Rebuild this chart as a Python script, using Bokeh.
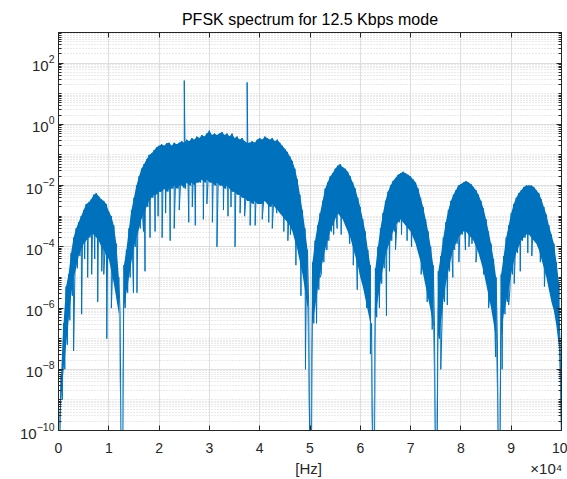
import numpy as np
from bokeh.plotting import figure
from bokeh.models import (Range1d, FixedTicker, LogTickFormatter, LinearAxis, LogAxis,
                          CustomJSTickFormatter, ColumnDataSource)
from bokeh.embed import file_html
from bokeh.resources import INLINE

# ---------------- data ----------------
TITLE = "PFSK spectrum for 12.5 Kbps mode"
X_LABEL = "[Hz]"
X_MULT = "×10⁴"
step_hz = 500  # spacing of the envelope readings

# upper edge of the dense band, log10 of the spectrum, one reading every 500 Hz (0 .. 100 kHz)
hi_log = [
    -10.5, -8.2, -6.5, -5.3, -4.9, -4.2, -3.7, -3.4, -3.2, -3.0,
    -2.8, -2.6, -2.55, -2.45, -2.3, -2.25, -2.35, -2.45, -2.5, -2.6,
    -2.85, -3.0, -3.3, -3.9, -5.0, -12, -4.6, -4.1, -3.4, -2.8,
    -2.4, -2.0, -1.7, -1.45, -1.3, -1.15, -1.0, -0.95, -0.85, -0.75,
    -0.7, -0.65, -0.7, -0.62, -0.6, -0.7, -0.6, -0.65, -0.6, -0.55,
    -0.6, -0.5, -0.55, -0.45, -0.5, -0.4, -0.45, -0.35, -0.4, -0.3,
    -0.2, -0.35, -0.3, -0.35, -0.3, -0.25, -0.35, -0.3, -0.4, -0.3,
    -0.45, -0.4, -0.5, -0.45, -0.55, -0.6, -0.6, -0.55, -0.6, -0.5,
    -0.45, -0.5, -0.4, -0.45, -0.5, -0.45, -0.55, -0.5, -0.6, -0.7,
    -0.8, -0.9, -1.05, -1.2, -1.45, -1.8, -2.3, -2.8, -3.4, -4.1,
    -12, -4.5, -3.8, -3.3, -2.9, -2.5, -2.1, -1.9, -1.7, -1.6,
    -1.45, -1.35, -1.3, -1.4, -1.45, -1.55, -1.7, -1.9, -2.1, -2.4,
    -2.7, -3.1, -3.5, -4.1, -4.6, -12, -4.7, -4.0, -3.4, -2.9,
    -2.5, -2.2, -2.0, -1.85, -1.75, -1.65, -1.6, -1.55, -1.6, -1.65,
    -1.7, -1.8, -1.9, -2.1, -2.4, -2.7, -3.1, -3.5, -4.0, -4.6,
    -12, -4.8, -4.3, -3.7, -3.2, -2.8, -2.5, -2.3, -2.15, -2.0,
    -1.95, -1.9, -1.85, -1.9, -1.95, -2.05, -2.15, -2.3, -2.5, -2.75,
    -3.1, -3.5, -3.9, -4.4, -5.0, -12, -4.9, -4.3, -3.7, -3.3,
    -2.9, -2.6, -2.4, -2.25, -2.15, -2.05, -2.0, -2.0, -2.0, -2.05,
    -2.15, -2.25, -2.45, -2.7, -2.95, -3.3, -3.6, -3.9, -4.5, -5.2,
    -10.5,
]

# lower edge of the dense band, log10, same frequencies
lo_log = [
    -10.5, -9.0, -8.0, -7.2, -6.4, -5.6, -5.0, -4.7, -4.3, -4.1,
    -3.9, -3.8, -3.7, -3.6, -3.6, -3.7, -3.8, -4.0, -4.1, -4.3,
    -4.4, -4.8, -5.2, -5.7, -6.2, -12, -6.0, -5.5, -5.0, -4.5,
    -4.0, -3.7, -3.4, -3.1, -2.9, -2.7, -2.5, -2.4, -2.3, -2.3,
    -2.2, -2.2, -2.1, -2.2, -2.1, -2.1, -2.0, -2.1, -2.0, -2.0,
    -2.1, -1.9, -2.0, -1.9, -2.0, -1.9, -1.9, -1.8, -1.9, -1.8,
    -1.9, -1.9, -2.0, -1.9, -2.0, -2.0, -2.1, -2.0, -2.1, -2.2,
    -2.2, -2.3, -2.3, -2.4, -2.4, -2.5, -2.5, -2.6, -2.5, -2.6,
    -2.6, -2.6, -2.5, -2.6, -2.7, -2.6, -2.7, -2.8, -2.9, -3.0,
    -3.1, -3.2, -3.3, -3.5, -3.8, -4.1, -4.5, -4.9, -5.4, -6.0,
    -12, -6.5, -6.0, -5.4, -4.9, -4.5, -4.1, -3.8, -3.5, -3.3,
    -3.1, -2.9, -3.0, -3.1, -3.3, -3.5, -3.7, -4.0, -4.3, -4.6,
    -5.0, -5.3, -5.7, -6.1, -6.5, -12, -6.3, -5.7, -5.2, -4.7,
    -4.3, -4.0, -3.8, -3.5, -3.3, -3.2, -3.1, -3.2, -3.3, -3.4,
    -3.5, -3.7, -3.9, -4.2, -4.5, -4.9, -5.3, -5.7, -6.1, -6.6,
    -12, -7.0, -6.5, -5.8, -5.2, -4.8, -4.4, -4.1, -3.9, -3.7,
    -3.6, -3.5, -3.5, -3.6, -3.7, -3.8, -4.0, -4.2, -4.5, -4.8,
    -5.2, -5.6, -6.0, -6.5, -7.0, -12, -6.9, -6.2, -5.8, -5.4,
    -4.9, -4.5, -4.2, -4.0, -3.8, -3.7, -3.6, -3.6, -3.7, -3.8,
    -3.9, -4.1, -4.4, -4.7, -5.0, -5.4, -5.8, -6.1, -6.6, -7.3,
    -10.5,
]

# isolated dips and the two tall spikes: frequency (kHz), log10 value
dip_khz = [0.7, 1.7, 3.0, 4.6, 5.2, 5.8, 6.6, 7.2, 7.8, 8.6, 9.0, 9.6, 10.5, 11.6,
           14.9, 15.6, 16.9, 17.2, 18.2, 19.2, 19.8, 20.6, 21.3, 22.2, 23.0, 24.0,
           25.9, 26.6, 27.2, 28.8, 29.5, 30.6, 31.5, 32.8, 33.7, 34.3, 35.1, 36.1,
           37.0, 38.1, 39.1, 40.5, 41.8, 42.5, 43.4, 44.8, 45.6, 46.1, 47.2, 48.2, 49.1,
           50.4, 51.3, 52.0, 53.4, 54.7, 55.4, 56.2, 57.9, 58.6, 59.4, 60.0, 61.3, 62.0,
           62.9, 63.8, 65.2, 65.8, 67.0, 68.2, 69.3, 70.2, 71.0, 72.1, 73.3, 74.3,
           76.0, 77.3, 78.4, 79.6, 80.9, 81.6, 82.2, 83.0, 84.5, 85.5, 86.9,
           88.2, 89.5, 90.6, 91.8, 93.3, 94.1, 95.8, 96.6, 97.5, 99.5,
           25.0, 37.5]
dip_log = [-8.7, -7.0, -7.4, -6.2, -4.4, -5.0, -4.9, -4.4, -5.8, -4.8, -4.9, -7.0, -6.0, -5.6,
           -5.5, -5.5, -3.5, -4.8, -3.7, -3.5, -3.0, -3.7, -2.9, -3.8, -3.4, -2.8,
           -3.2, -2.7, -3.3, -3.1, -2.6, -3.2, -4.0, -2.8, -3.0, -2.7, -4.0, -2.9,
           -3.0, -3.3, -3.3, -3.1, -3.2, -3.4, -2.9, -3.5, -3.8, -3.6, -4.6, -5.6, -8.0,
           -7.9, -6.5, -5.0, -4.1, -3.6, -3.4, -3.6, -3.9, -4.6, -5.4, -4.9, -6.0, -7.5,
           -8.8, -6.0, -6.25, -4.8, -4.1, -3.6, -3.8, -4.0, -3.8, -4.9, -5.8, -6.7,
           -8.0, -5.9, -5.0, -4.5, -4.1, -4.0, -3.9, -4.5, -4.9, -6.0, -7.6,
           -8.0, -5.9, -5.2, -4.8, -4.2, -4.3, -4.5, -5.3, -4.9, -6.2,
           1.43, 1.37]

x_ticks = [0, 10000, 20000, 30000, 40000, 50000, 60000, 70000, 80000, 90000, 100000]
x_tick_labels = ["0", "1", "2", "3", "4", "5", "6", "7", "8", "9", "10"]
y_major_exp = [-10, -8, -6, -4, -2, 0, 2]

# ---------------- assemble the trace ----------------
freqs = np.arange(len(hi_log)) * step_hz
band = ColumnDataSource(dict(x=freqs, lo=10.0 ** np.array(lo_log), hi=10.0 ** np.array(hi_log)))

pts = []
for f, h, l in zip(freqs, hi_log, lo_log):
    pts.append((float(f), h))
    pts.append((float(f) + step_hz / 2, l))
for fk, v in zip(dip_khz, dip_log):
    pts.append((fk * 1000.0, v))
pts.sort(key=lambda t: t[0])
src = ColumnDataSource(dict(x=np.array([t[0] for t in pts]),
                            y=10.0 ** np.array([t[1] for t in pts])))

# ---------------- figure ----------------
FONT = "Liberation Sans"
AX = "#262626"
BLUE = "#0072BD"
NB = "\u00a0"

p = figure(width=567, height=479, y_axis_type="log",
           x_range=Range1d(0, 100000), y_range=Range1d(1e-10, 1e3),
           output_backend="svg", toolbar_location=None,
           min_border_left=58, min_border_right=6, min_border_top=32, min_border_bottom=49)
p.background_fill_color = "white"
p.border_fill_color = "white"
p.outline_line_color = AX
p.outline_line_width = 1

p.title.text = TITLE
p.title.align = "center"
p.title.text_font = FONT
p.title.text_font_size = "16px"
p.title.text_font_style = "normal"
p.title.text_color = "#000000"
p.title.standoff = 9

p.varea(x="x", y1="lo", y2="hi", source=band, fill_color=BLUE)
p.line("x", "y", source=src, line_color=BLUE, line_width=1)

minor = []
for e in range(-10, 3):
    for m in range(1, 10):
        if m == 1 and e in y_major_exp:
            continue
        minor.append(m * 10.0 ** e)
y_ticker = FixedTicker(ticks=[10.0 ** e for e in y_major_exp], minor_ticks=minor)
x_ticker = FixedTicker(ticks=x_ticks)

xa = p.xaxis[0]
xa.ticker = x_ticker
xa.major_label_overrides = {t: s for t, s in zip(x_ticks, x_tick_labels)}
ya = p.yaxis[0]
ya.ticker = y_ticker
ya.formatter = LogTickFormatter()

for ax in (xa, ya):
    ax.axis_line_color = AX
    ax.major_tick_line_color = AX
    ax.minor_tick_line_color = AX
    ax.major_tick_in = 5
    ax.major_tick_out = 0
    ax.minor_tick_in = 3
    ax.minor_tick_out = 0
    ax.major_label_text_font = FONT
    ax.major_label_text_font_size = "14px"
    ax.major_label_text_color = AX
ya.major_label_text_font_size = "15px"
xa.minor_tick_in = 0
xa.major_label_standoff = 12
ya.major_label_standoff = 4
# axis label: "[Hz]" centred under the axis, the x10^4 multiplier at its right end
xa.axis_label = NB * 57 + X_LABEL + NB * 50 + X_MULT
xa.axis_label_text_font = FONT
xa.axis_label_text_font_size = "15px"
xa.axis_label_text_font_style = "normal"
xa.axis_label_text_color = AX
xa.axis_label_standoff = 4

# mirrored ticks on top and right (box on)
blank = CustomJSTickFormatter(code="return ''")
top = LinearAxis(ticker=x_ticker, formatter=blank)
right = LogAxis(ticker=y_ticker, formatter=blank)
for ax in (top, right):
    ax.axis_line_color = AX
    ax.major_tick_line_color = AX
    ax.minor_tick_line_color = AX
    ax.major_tick_in = 5
    ax.major_tick_out = 0
    ax.minor_tick_in = 3
    ax.minor_tick_out = 0
    ax.major_label_text_font_size = "0px"
    ax.major_label_standoff = 0
top.minor_tick_in = 0
p.add_layout(top, "above")
p.add_layout(right, "right")

p.xgrid.ticker = x_ticker
p.ygrid.ticker = y_ticker
p.xgrid.grid_line_color = "#dedede"
p.ygrid.grid_line_color = "#dedede"
p.ygrid.minor_grid_line_color = "#d4d4d4"
p.ygrid.minor_grid_line_dash = "1 2"

open("out.html", "w").write(file_html(p, INLINE))
